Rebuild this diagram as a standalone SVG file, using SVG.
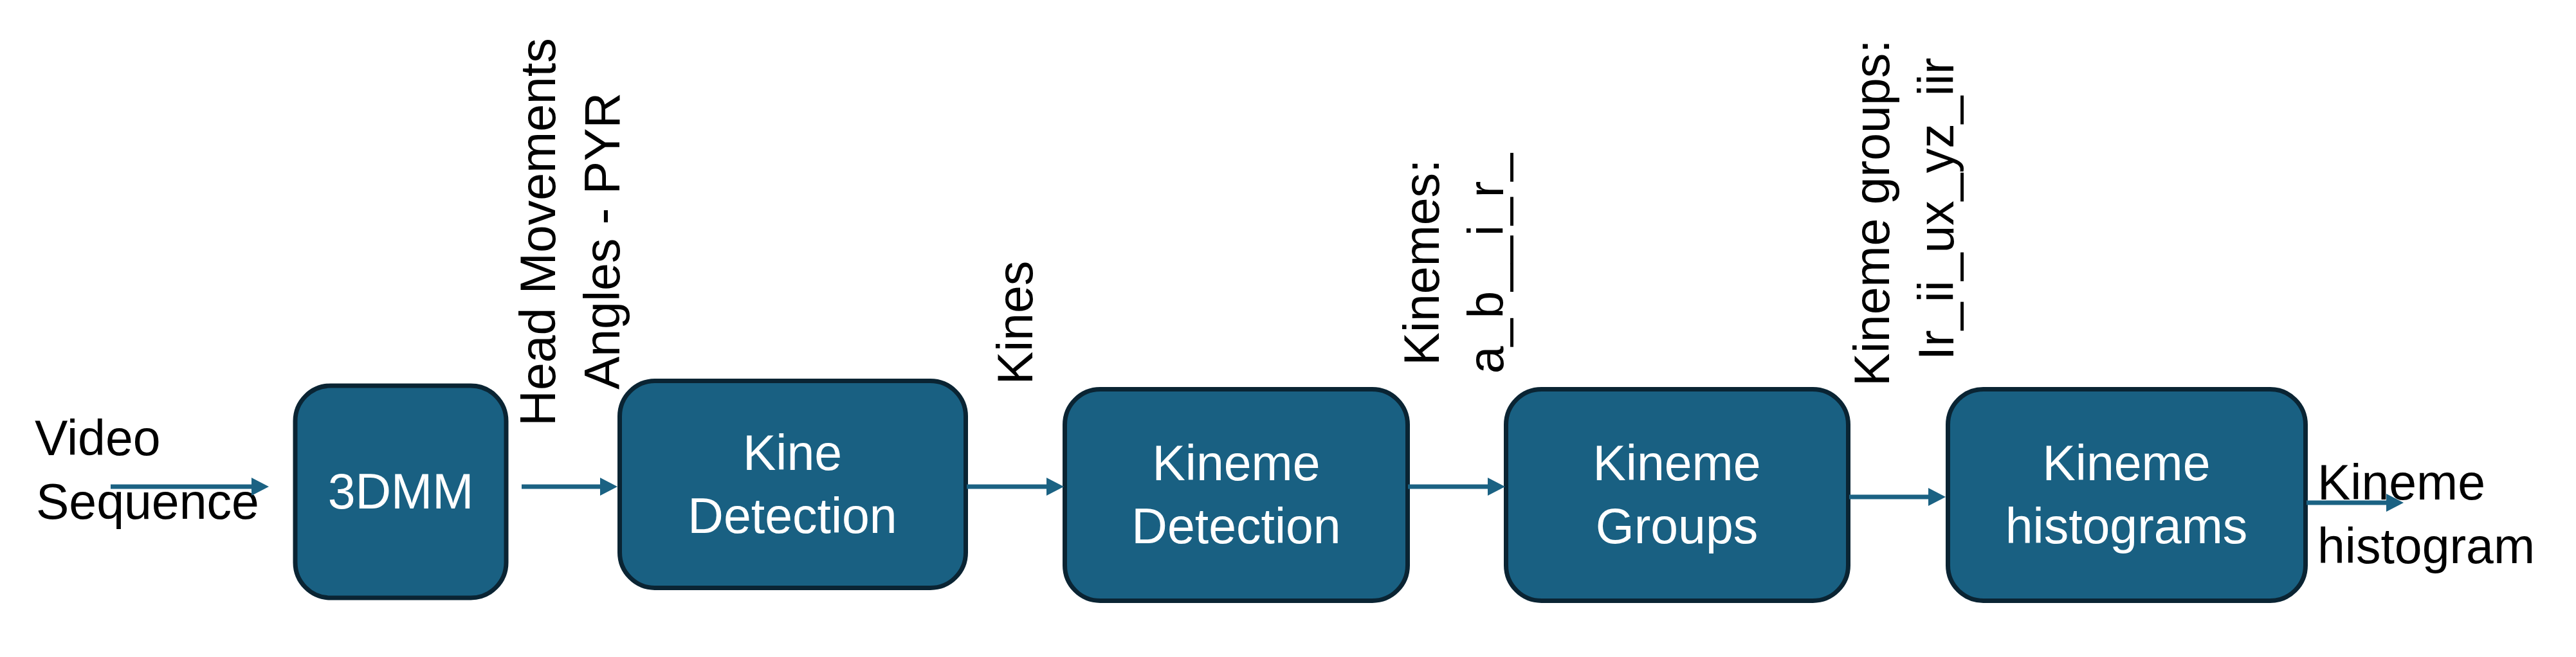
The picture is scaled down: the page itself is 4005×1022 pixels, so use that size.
<svg xmlns="http://www.w3.org/2000/svg" width="4005" height="1022" viewBox="0 0 4005 1022">
  <style>
    .box { fill: #196082; stroke: #0a2433; stroke-width: 7; }
    .btxt { fill: #ffffff; font-family: "Liberation Sans", Arial, sans-serif; font-size: 77px; text-anchor: middle; }
    .lbl { fill: #000000; font-family: "Liberation Sans", Arial, sans-serif; font-size: 77px; }
    .rot { text-anchor: middle; }
    .conn { stroke: #1b6283; stroke-width: 7; fill: none; marker-end: url(#ah); }
  </style>
  <defs>
    <marker id="ah" markerUnits="userSpaceOnUse" markerWidth="28" markerHeight="28" refX="7" refY="14" orient="auto">
      <path d="M0,0 L27,14 L0,28 z" fill="#1b6283"/>
    </marker>
  </defs>
  <rect width="4005" height="1022" fill="#ffffff"/>

  <g id="labels">
    <text class="lbl" x="54" y="708">Video</text>
    <text class="lbl" x="56" y="807">Sequence</text>
    <text class="lbl rot" transform="translate(863,361) rotate(-90)">Head Movements</text>
    <text class="lbl rot" transform="translate(963,375) rotate(-90)">Angles - PYR</text>
    <text class="lbl rot" transform="translate(1605,502) rotate(-90)">Kines</text>
    <text class="lbl rot" transform="translate(2237,408) rotate(-90)">Kinemes:</text>
    <text class="lbl rot" transform="translate(2337,410) rotate(-90)">a_b__i_r_</text>
    <text class="lbl rot" transform="translate(2937,331) rotate(-90)">Kineme groups:</text>
    <text class="lbl rot" transform="translate(3037,325) rotate(-90)">Ir_ii_ux_yz_iir</text>
    <text class="lbl" x="3603" y="777">Kineme</text>
    <text class="lbl" x="3603" y="876">histogram</text>
  </g>

  <g id="node-3dmm">
    <rect class="box" x="459" y="600" width="328" height="330" rx="55" ry="55"/>
    <text class="btxt" x="623" y="791">3DMM</text>
  </g>
  <g id="node-kine-detection">
    <rect class="box" x="963.5" y="592.5" width="538" height="322" rx="55" ry="55"/>
    <text class="btxt" x="1232" y="731">Kine</text>
    <text class="btxt" x="1232" y="829">Detection</text>
  </g>
  <g id="node-kineme-detection">
    <rect class="box" x="1655.5" y="605.5" width="533" height="329" rx="55" ry="55"/>
    <text class="btxt" x="1922" y="747">Kineme</text>
    <text class="btxt" x="1922" y="845">Detection</text>
  </g>
  <g id="node-kineme-groups">
    <rect class="box" x="2341.5" y="605.5" width="532" height="329" rx="55" ry="55"/>
    <text class="btxt" x="2607" y="747">Kineme</text>
    <text class="btxt" x="2607" y="845">Groups</text>
  </g>
  <g id="node-kineme-histograms">
    <rect class="box" x="3028.5" y="605.5" width="556" height="329" rx="55" ry="55"/>
    <text class="btxt" x="3306" y="747">Kineme</text>
    <text class="btxt" x="3306" y="845">histograms</text>
  </g>

  <g id="connectors">
    <line class="conn" x1="172" y1="757" x2="398" y2="757"/>
    <line class="conn" x1="811" y1="757" x2="940" y2="757"/>
    <line class="conn" x1="1503" y1="757" x2="1634" y2="757"/>
    <line class="conn" x1="2189" y1="757" x2="2320" y2="757"/>
    <line class="conn" x1="2875" y1="773" x2="3005" y2="773"/>
    <line class="conn" x1="3586" y1="782" x2="3717" y2="782"/>
  </g>
</svg>
